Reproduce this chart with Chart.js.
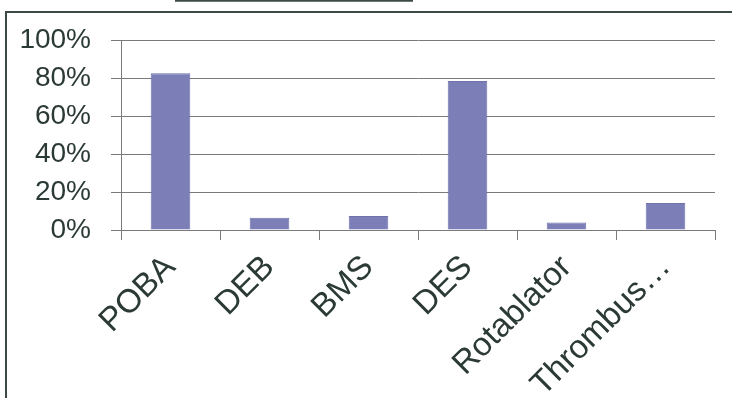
<!DOCTYPE html>
<html>
<head>
<meta charset="utf-8">
<script src="https://cdn.jsdelivr.net/npm/chart.js@4/dist/chart.umd.min.js"></script>
<style>
  html, body { margin: 0; padding: 0; background: #ffffff; }
  #wrap { width: 732px; height: 398px; position: relative; }
</style>
</head>
<body>
<div id="wrap"><canvas id="c" width="732" height="398"></canvas></div>
<script>
// Treatment devices and the share of cases in which each was used
const categories = ['POBA', 'DEB', 'BMS', 'DES', 'Rotablator', 'Thrombus\u2026'];
const usageShare = [82.5, 6.5, 7.4, 78.4, 4.0, 14.2];
const yTicks = [0, 20, 40, 60, 80, 100];

const INK = '#2b3a35';
const FONT = "'Liberation Sans', Arial, sans-serif";

// Outer frame of the panel plus the rule running along the top edge
const framePlugin = {
  id: 'frame',
  beforeDraw(chart) {
    const ctx = chart.ctx;
    ctx.save();
    ctx.fillStyle = '#ffffff';
    ctx.fillRect(0, 0, chart.width, chart.height);
    ctx.strokeStyle = '#3c4a46';
    ctx.lineWidth = 2;
    ctx.beginPath();
    ctx.moveTo(6, chart.height + 5);
    ctx.lineTo(6, 12);
    ctx.lineTo(chart.width + 5, 12);
    ctx.stroke();
    ctx.lineWidth = 2.5;
    ctx.beginPath();
    ctx.moveTo(175, 0.5);
    ctx.lineTo(413, 0.5);
    ctx.stroke();
    ctx.restore();
  }
};

new Chart(document.getElementById('c'), {
  type: 'bar',
  data: {
    labels: categories,
    datasets: [{
      data: usageShare,
      backgroundColor: '#7b7eb7',
      borderColor: '#6f72ab',
      borderWidth: 1,
      barPercentage: 0.4,
      categoryPercentage: 1.0
    }]
  },
  options: {
    responsive: false,
    animation: false,
    layout: { padding: { top: 40, right: 17, bottom: 0, left: 0 } },
    plugins: { legend: { display: false }, tooltip: { enabled: false } },
    scales: {
      x: {
        grid: {
          offset: true,
          drawOnChartArea: false,
          drawTicks: true,
          tickLength: 10,
          color: '#7a7a7a',
          lineWidth: 1
        },
        border: { display: true, color: '#7a7a7a', width: 1 },
        ticks: {
          color: INK,
          font: { family: FONT, size: 33 },
          maxRotation: 45,
          minRotation: 45,
          padding: 8,
          autoSkip: false
        },
        afterFit(scale) { scale.height = 168; }
      },
      y: {
        min: 0,
        max: 100,
        afterBuildTicks(scale) { scale.ticks = yTicks.map(v => ({ value: v })); },
        grid: {
          color: '#7a7a7a',
          lineWidth: 1,
          tickLength: 10,
          drawTicks: true
        },
        border: { display: true, color: '#7a7a7a', width: 1 },
        ticks: {
          color: INK,
          font: { family: FONT, size: 28 },
          padding: 20,
          callback: v => v + '%'
        },
        afterFit(scale) { scale.width = 121; }
      }
    }
  },
  plugins: [framePlugin]
});
</script>
</body>
</html>
